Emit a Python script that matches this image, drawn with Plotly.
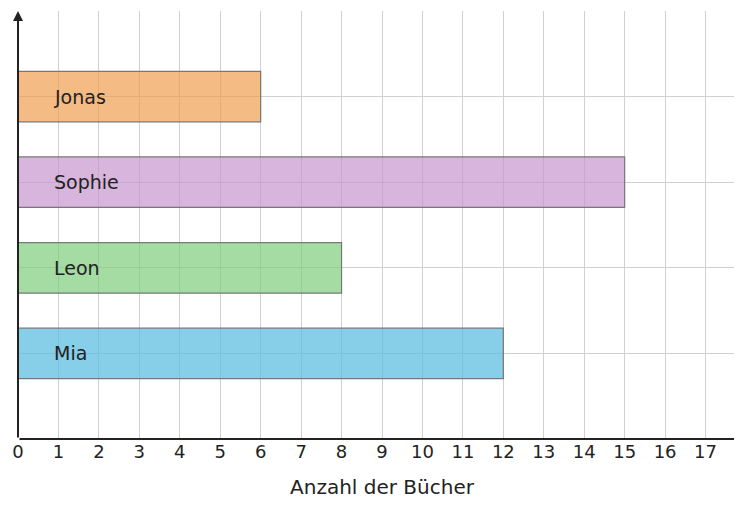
import plotly.graph_objects as go

names = ["Mia", "Leon", "Sophie", "Jonas"]
values = [12, 8, 15, 6]
colors = ["rgba(95,190,225,0.75)", "rgba(125,205,125,0.7)", "rgba(200,150,205,0.7)", "rgba(240,160,80,0.7)"]
ypos = [1, 2, 3, 4]
xticks = list(range(0, 18))

fig = go.Figure()
fig.add_trace(go.Bar(x=values, y=ypos, orientation="h", width=0.59,
                     marker=dict(color=colors, line=dict(color="#777", width=1.2)),
                     hoverinfo="skip", cliponaxis=False))
for n, y in zip(names, ypos):
    fig.add_annotation(x=0.85, y=y, text=n, showarrow=False, xanchor="left",
                       font=dict(size=19, color="#222", family="DejaVu Sans"))
fig.add_annotation(x=18, y=0, ax=-728, ay=0, xref="x", yref="y", axref="pixel", ayref="pixel",
                   text="", showarrow=True, arrowhead=2, arrowsize=1, arrowwidth=2, arrowcolor="#222")
fig.add_annotation(x=0, y=5, ax=0, ay=428, xref="x", yref="y", axref="pixel", ayref="pixel",
                   text="", showarrow=True, arrowhead=2, arrowsize=1, arrowwidth=2, arrowcolor="#222")
fig.update_layout(
    width=742, height=508, margin=dict(l=10, r=4, t=3, b=77, autoexpand=False),
    plot_bgcolor="white", paper_bgcolor="white", showlegend=False,
    font=dict(family="DejaVu Sans", color="#222"),
    xaxis=dict(range=[0, 18], tickvals=xticks, ticktext=[str(t) for t in xticks], automargin=False,
               showgrid=True, gridcolor="#d0d0d0", gridwidth=1, zeroline=False,
               tickfont=dict(size=18), title=dict(text="Anzahl der Bücher", font=dict(size=20), standoff=18),
               showline=False),
    yaxis=dict(range=[0, 5], tickvals=[1, 2, 3, 4, 5], showticklabels=False, showgrid=True, automargin=False,
               gridcolor="#d0d0d0", zeroline=False, showline=False),
)
fig.add_vline(x=18, line=dict(color="#d0d0d0", width=1))
fig.write_html("out.html")
